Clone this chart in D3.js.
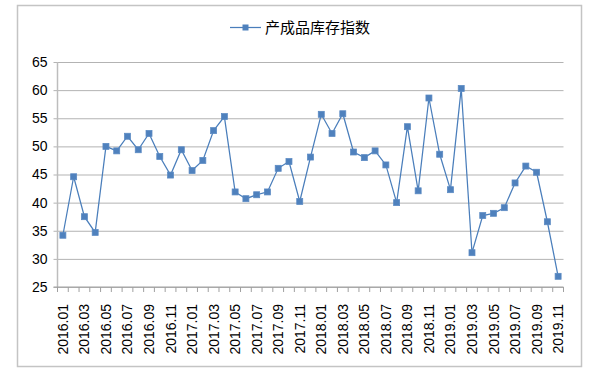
<!DOCTYPE html>
<html>
<head>
<meta charset="utf-8">
<script src="https://cdn.jsdelivr.net/npm/d3@7"></script>
<style>
  body { margin: 0; background: #fff; }
  svg { display: block; }
</style>
</head>
<body>
<div id="chart"></div>
<script>
// months 2016.01 - 2019.11
var months = [];
for (var yr = 2016; yr <= 2019; yr++) {
    for (var m = 1; m <= 12; m++) {
        if (yr == 2019 && m > 11) break;
        months.push(yr + "." + (m < 10 ? "0" + m : m));
    }
}

var seriesName = "产成品库存指数";
var values = [
    34.2, 44.6, 37.5, 34.7, 50.0, 49.2, 51.8, 49.4, 52.3, 48.2, 44.9, 49.4,
    45.7, 47.5, 52.8, 55.3, 41.9, 40.7, 41.4, 41.9, 46.1, 47.3, 40.2, 48.1,
    55.7, 52.3, 55.8, 49.0, 48.0, 49.2, 46.7, 40.0, 53.5, 42.1, 58.6, 48.6,
    42.3, 60.3, 31.1, 37.7, 38.1, 39.1, 43.5, 46.5, 45.4, 36.6, 26.9
];
var yTicks = [25, 30, 35, 40, 45, 50, 55, 60, 65];

var width = 602, height = 382;
// plot area edges (named so they don't clash with window.top)
var plotL = 57.5, plotR = 563.5, plotT = 62, plotB = 287;
var blue = "#4a7ebb";

var svg = d3.select("#chart").append("svg")
    .attr("width", width)
    .attr("height", height);

// outer frame
svg.append("rect")
    .attr("x", 17.5).attr("y", 5.5)
    .attr("width", 564).attr("height", 361)
    .attr("fill", "#fff")
    .attr("stroke", "#c4c4c4")
    .attr("stroke-width", 1.5);

var x = d3.scaleBand().domain(months).range([plotL, plotR]).padding(0);
var y = d3.scaleLinear().domain([25, 65]).range([plotB, plotT]);

// gridlines + y labels
var yAxis = d3.axisLeft(y).tickValues(yTicks).tickSize(-(plotR - plotL)).tickPadding(10);
var gy = svg.append("g")
    .attr("transform", "translate(" + plotL + ",0)")
    .call(yAxis);
gy.select(".domain").remove();
gy.selectAll(".tick line")
    .attr("x1", -4)
    .attr("stroke", "#b3b3b3");
gy.selectAll(".tick text")
    .attr("font-family", "'Liberation Sans', Arial, sans-serif")
    .attr("font-size", 14)
    .attr("fill", "#000");

// y axis line
svg.append("line")
    .attr("x1", plotL).attr("x2", plotL)
    .attr("y1", plotT).attr("y2", plotB)
    .attr("stroke", "#bdbdbd")
    .attr("stroke-width", 1.5);

// x axis with ticks between categories
svg.append("line")
    .attr("x1", plotL - 4).attr("x2", plotR)
    .attr("y1", plotB).attr("y2", plotB)
    .attr("stroke", "#a0a0a0");

var bounds = months.map(function (d) { return x(d); }).concat([plotR]);
svg.append("g").selectAll("line")
    .data(bounds)
    .enter().append("line")
    .attr("x1", function (d) { return d; })
    .attr("x2", function (d) { return d; })
    .attr("y1", plotB)
    .attr("y2", plotB + 5)
    .attr("stroke", "#a0a0a0");

svg.append("g").selectAll("text")
    .data(months.filter(function (d, i) { return i % 2 == 0; }))
    .enter().append("text")
    .attr("transform", function (d) {
        return "translate(" + (x(d) + x.bandwidth() / 2 + 5) + "," + (plotB + 17) + ") rotate(-90)";
    })
    .attr("text-anchor", "end")
    .attr("font-family", "'Liberation Sans', Arial, sans-serif")
    .attr("font-size", 14)
    .attr("fill", "#000")
    .text(function (d) { return d; });

// line + markers
var line = d3.line()
    .x(function (d, i) { return x(months[i]) + x.bandwidth() / 2; })
    .y(function (d) { return y(d); });

svg.append("path")
    .datum(values)
    .attr("d", line)
    .attr("fill", "none")
    .attr("stroke", blue)
    .attr("stroke-width", 1.25);

svg.append("g").selectAll("rect")
    .data(values)
    .enter().append("rect")
    .attr("x", function (d, i) { return x(months[i]) + x.bandwidth() / 2 - 3; })
    .attr("y", function (d) { return y(d) - 3; })
    .attr("width", 6)
    .attr("height", 6)
    .attr("fill", "#4f81bd")
    .attr("stroke", "#5b8ac3")
    .attr("stroke-width", 0.75);

// legend
var lg = svg.append("g").attr("transform", "translate(230,27.5)");
lg.append("line")
    .attr("x1", 0).attr("x2", 31)
    .attr("stroke", blue)
    .attr("stroke-width", 1.25);
lg.append("rect")
    .attr("x", 12.5).attr("y", -3)
    .attr("width", 6).attr("height", 6)
    .attr("fill", "#4f81bd");
lg.append("text")
    .attr("x", 35)
    .attr("y", 5.5)
    .attr("font-family", "'Noto Sans CJK SC', sans-serif")
    .attr("font-size", 15)
    .attr("fill", "#000")
    .text(seriesName);
</script>
</body>
</html>
